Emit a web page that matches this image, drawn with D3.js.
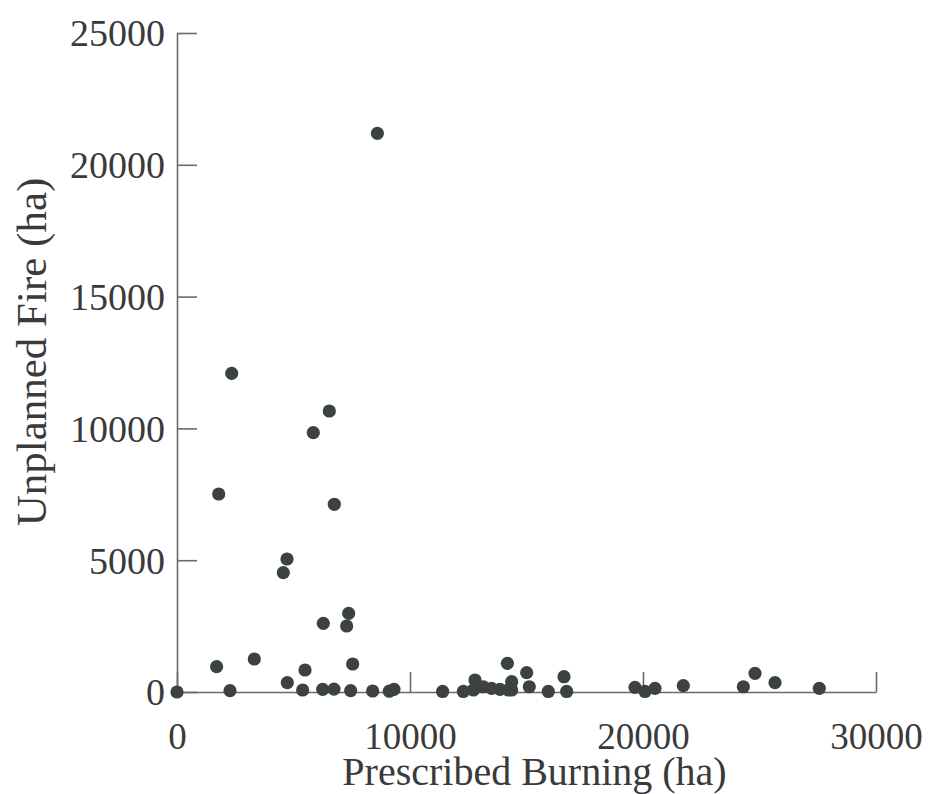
<!DOCTYPE html>
<html>
<head>
<meta charset="utf-8">
<script src="https://cdn.jsdelivr.net/npm/d3@7"></script>
<style>
  html, body { margin: 0; padding: 0; background: #fff; }
  svg { display: block; }
</style>
</head>
<body>
<svg id="chart" width="928" height="794"></svg>
<script>
// Prescribed burning (ha) vs unplanned fire (ha)
const prescribedBurning = [
  0, 1700, 1790, 2275, 2347, 3318, 4562, 4721, 4734, 5393,
  5494, 5850, 6253, 6280, 6537, 6738, 6751, 7282, 7368, 7453,
  7540, 8397, 8600, 9112, 9313, 11400, 12290, 12720, 12790, 13140,
  13500, 13860, 14220, 14180, 14364, 14364, 15008, 15120, 15936, 16609,
  16724, 19657, 20086, 20515, 21730, 24306, 24807, 25665, 27567
];
const unplannedFire = [
  0, 960, 7511, 50, 12090, 1252, 4526, 5046, 353, 76,
  835, 9837, 100, 2606, 10660, 110, 7121, 2504, 2985, 50,
  1062, 38, 21195, 30, 100, 20, 20, 76, 455, 200,
  140, 100, 76, 1088, 390, 76, 732, 200, 20, 580,
  20, 178, 20, 140, 240, 200, 708, 353, 140
];
const xTicks = [0, 10000, 20000, 30000];
const yTicks = [0, 5000, 10000, 15000, 20000, 25000];
const xTitle = "Prescribed Burning (ha)";
const yTitle = "Unplanned Fire (ha)";

const svg = d3.select("#chart");
const font = "'Liberation Serif', 'Times New Roman', serif";
const axisColor = "#6a6a6a";
const textColor = "#3a3a3a";
const dotColor = "#3b4241";

const x = d3.scaleLinear().domain([0, 30000]).range([177, 876]);
const y = d3.scaleLinear().domain([0, 25000]).range([692, 33]);

// X axis (ticks point up, into the plot)
const gx = svg.append("g")
  .attr("transform", `translate(0,${y(0)})`)
  .call(d3.axisBottom(x).tickValues(xTicks).tickFormat(d3.format("d"))
    .tickSizeInner(-20).tickSizeOuter(0).tickPadding(0));
gx.select(".domain").attr("stroke", axisColor).attr("stroke-width", 1.6);
gx.selectAll(".tick line").attr("stroke", axisColor).attr("stroke-width", 1.6);
gx.selectAll(".tick text")
  .attr("y", 31).attr("dy", "0.71em")
  .attr("fill", textColor)
  .style("font-family", font).style("font-size", "37px");

// Y axis (ticks point right, into the plot)
const gy = svg.append("g")
  .attr("transform", `translate(${x(0)},0)`)
  .call(d3.axisLeft(y).tickValues(yTicks).tickFormat(d3.format("d"))
    .tickSizeInner(-20).tickSizeOuter(0).tickPadding(12));
gy.select(".domain").attr("stroke", axisColor).attr("stroke-width", 1.6);
gy.selectAll(".tick line").attr("stroke", axisColor).attr("stroke-width", 1.6);
gy.selectAll(".tick text")
  .attr("x", -12).attr("dy", "0.34em")
  .attr("fill", textColor)
  .style("font-family", font).style("font-size", "38px");

// Axis titles
svg.append("text")
  .attr("x", (x(0) + x(30000)) / 2 + 8)
  .attr("y", 785)
  .attr("text-anchor", "middle")
  .attr("fill", textColor)
  .style("font-family", font).style("font-size", "40px")
  .text(xTitle);

svg.append("text")
  .attr("transform", `translate(46,${352}) rotate(-90)`)
  .attr("text-anchor", "middle")
  .attr("fill", textColor)
  .style("font-family", font).style("font-size", "43px")
  .text(yTitle);

// Points
const pts = prescribedBurning.map((d, i) => ({ x: d, y: unplannedFire[i] }));
svg.append("g")
  .selectAll("circle")
  .data(pts)
  .join("circle")
  .attr("cx", d => x(d.x))
  .attr("cy", d => y(d.y))
  .attr("r", 6.6)
  .attr("fill", dotColor);
</script>
</body>
</html>
